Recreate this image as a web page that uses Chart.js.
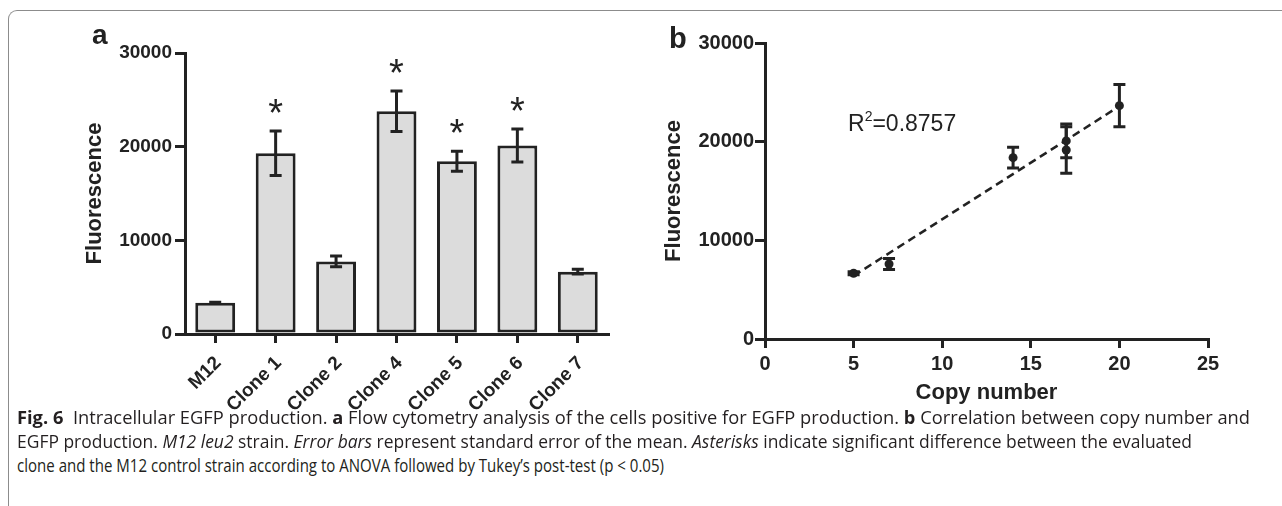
<!DOCTYPE html>
<html><head><meta charset="utf-8">
<script src="https://cdn.jsdelivr.net/npm/chart.js@4.4.0/dist/chart.umd.min.js"></script>
<style>
html,body{margin:0;padding:0;background:#fff;}
body{width:1282px;height:506px;position:relative;overflow:hidden;font-family:"Liberation Sans",Arial,sans-serif;color:#222;}
#frame{position:absolute;left:8px;top:10px;width:1290px;height:510px;border-top:1.5px solid #8c8c8c;border-left:1.5px solid #8c8c8c;border-top-left-radius:9px;box-sizing:border-box;}
canvas{position:absolute;top:0;}
#ca{left:0;}
#cb{left:640px;}
.lab{position:absolute;font-weight:bold;line-height:1;white-space:nowrap;}
.r2{position:absolute;line-height:1;white-space:nowrap;font-size:23px;}
.r2 span{font-size:14px;position:relative;top:-10px;}
.cap{position:absolute;left:17px;white-space:nowrap;font-family:"Open Sans",sans-serif;font-size:17.5px;line-height:1;color:#231f20;transform-origin:0 0;}
</style></head>
<body>
<div id="frame"></div>
<canvas id="ca" width="640" height="420"></canvas>
<canvas id="cb" width="642" height="420"></canvas>
<div class="lab" style="left:92px;top:21px;font-size:28px;">a</div>
<div class="lab" style="left:669px;top:24px;font-size:29px;">b</div>
<div class="r2" style="left:848px;top:112px;">R<span>2</span>=0.8757</div>
<div class="cap" style="top:409px;"><b>Fig. 6</b>&nbsp;&nbsp;Intracellular EGFP production. <b>a</b> Flow cytometry analysis of the cells positive for EGFP production. <b>b</b> Correlation between copy number and</div>
<div class="cap" style="top:433px;">EGFP production. <i>M12 leu2</i> strain. <i>Error bars</i> represent standard error of the mean. <i>Asterisks</i> indicate significant difference between the evaluated</div>
<div class="cap" style="top:457px;">clone and the M12 control strain according to ANOVA followed by Tukey’s post-test (p &lt; 0.05)</div>
<script>
// ---- Panel a data ----
const categories = ['M12', 'Clone 1', 'Clone 2', 'Clone 4', 'Clone 5', 'Clone 6', 'Clone 7'];
const fluorMean = [3340, 19300, 7750, 23780, 18450, 20130, 6650];
const fluorSem = [60, 2380, 570, 2150, 1070, 1760, 250];
const significant = [false, true, false, true, true, true, false];
const yTickValues = [0, 10000, 20000, 30000];

// ---- Panel b data ----
const copyNumber = [5, 7, 14, 17, 17, 20];
const copyFluor = [6660, 7600, 18380, 20080, 19160, 23650];
const copySem = [150, 550, 1050, 1700, 2360, 2150];
const trendX = [5, 20];
const trendY = [6400, 23600];
const xTickValuesB = [0, 5, 10, 15, 20, 25];

const INK = '#222';
const FONT = 'Liberation Sans';

const errorBarPlugin = {
  id: 'errbars',
  afterDatasetsDraw(chart, args, opts) {
    if (!opts || !opts.means) return;
    const ctx = chart.ctx;
    const meta = chart.getDatasetMeta(opts.datasetIndex || 0);
    const ys = chart.scales.y;
    ctx.save();
    ctx.strokeStyle = INK;
    ctx.fillStyle = INK;
    ctx.lineWidth = opts.lineWidth;
    meta.data.forEach((el, i) => {
      const x = el.x;
      const m = opts.means[i], s = opts.sems[i];
      const yt = ys.getPixelForValue(m + s), yb = ys.getPixelForValue(m - s);
      const h = opts.cap / 2;
      ctx.beginPath();
      ctx.moveTo(x, yt); ctx.lineTo(x, yb);
      ctx.moveTo(x - h, yt); ctx.lineTo(x + h, yt);
      ctx.moveTo(x - h, yb); ctx.lineTo(x + h, yb);
      ctx.stroke();
      if (opts.stars && opts.stars[i]) {
        ctx.font = '38px "' + FONT + '"';
        ctx.textAlign = 'center';
        ctx.textBaseline = 'alphabetic';
        ctx.fillText('*', x, yt - 27 + 22);
      }
    });
    ctx.restore();
  }
};

const tickFont = (size) => ({ family: FONT, size: size, weight: 'bold' });

// Panel a
new Chart(document.getElementById('ca'), {
  type: 'bar',
  data: {
    labels: categories,
    datasets: [{
      data: fluorMean,
      backgroundColor: '#dcdcdc',
      borderColor: INK,
      borderWidth: 3,
      borderSkipped: false,
      barPercentage: 0.66,
      categoryPercentage: 1
    }]
  },
  options: {
    responsive: false, animation: false, devicePixelRatio: 1,
    layout: { padding: { top: 53, right: 32, bottom: 0, left: 0 } },
    plugins: {
      legend: { display: false }, tooltip: { enabled: false },
      errbars: { means: fluorMean, sems: fluorSem, stars: significant, cap: 12, lineWidth: 3 }
    },
    scales: {
      x: {
        type: 'category', offset: true,
        grid: { offset: false, drawOnChartArea: false, drawTicks: true, tickLength: 9, lineWidth: 3, color: INK },
        border: { display: true, color: INK, width: 3 },
        ticks: { color: INK, font: tickFont(19), minRotation: 45, maxRotation: 45, padding: 9, labelOffset: 3, autoSkip: false },
        afterFit(s) { s.height = 86; }
      },
      y: {
        min: 0, max: 30000,
        afterBuildTicks(s) { s.ticks = yTickValues.map(v => ({ value: v })); },
        grid: { drawOnChartArea: false, drawTicks: true, tickLength: 10, lineWidth: 3, color: INK },
        border: { display: true, color: INK, width: 3 },
        ticks: { color: INK, font: tickFont(19), padding: 3, callback: v => String(v) },
        title: { display: true, text: 'Fluorescence', color: INK, font: tickFont(22), padding: { top: 82, bottom: 0 } },
        afterFit(s) { s.width = 185; }
      }
    }
  },
  plugins: [errorBarPlugin]
});

// Panel b
new Chart(document.getElementById('cb'), {
  type: 'scatter',
  data: {
    datasets: [
      {
        type: 'scatter',
        data: copyNumber.map((x, i) => ({ x: x, y: copyFluor[i] })),
        pointRadius: 4.5, pointBackgroundColor: INK, pointBorderColor: INK, pointBorderWidth: 0
      },
      {
        type: 'line',
        data: trendX.map((x, i) => ({ x: x, y: trendY[i] })),
        borderColor: INK, borderWidth: 2.5, borderDash: [8, 5], pointRadius: 0, fill: false, showLine: true
      }
    ]
  },
  options: {
    responsive: false, animation: false, devicePixelRatio: 1,
    layout: { padding: { top: 43, right: 74, bottom: 0, left: 0 } },
    plugins: {
      legend: { display: false }, tooltip: { enabled: false },
      errbars: { datasetIndex: 0, means: copyFluor, sems: copySem, cap: 12, lineWidth: 3 }
    },
    scales: {
      x: {
        type: 'linear', min: 0, max: 25,
        afterBuildTicks(s) { s.ticks = xTickValuesB.map(v => ({ value: v })); },
        grid: { drawOnChartArea: false, drawTicks: true, tickLength: 9, lineWidth: 3, color: INK },
        border: { display: true, color: INK, width: 3 },
        ticks: { color: INK, font: tickFont(20), padding: 4, callback: v => String(v) },
        title: { display: true, text: 'Copy number', color: INK, font: tickFont(22), padding: { top: 0, bottom: 14 } },
        afterFit(s) { s.height = 81; }
      },
      y: {
        min: 0, max: 30000,
        afterBuildTicks(s) { s.ticks = yTickValues.map(v => ({ value: v })); },
        grid: { drawOnChartArea: false, drawTicks: true, tickLength: 10, lineWidth: 3, color: INK },
        border: { display: true, color: INK, width: 3 },
        ticks: { color: INK, font: tickFont(20), padding: 1, callback: v => String(v) },
        title: { display: true, text: 'Fluorescence', color: INK, font: tickFont(22), padding: { top: 21, bottom: 0 } },
        afterFit(s) { s.width = 125; }
      }
    }
  },
  plugins: [errorBarPlugin]
});

// fit caption lines to the widths seen in the reference
const capWidths = [1233, 1175, 647];
document.querySelectorAll('.cap').forEach((el, i) => {
  const w = el.getBoundingClientRect().width;
  el.style.transform = 'scaleX(' + (capWidths[i] / w) + ')';
});
</script>
</body></html>
